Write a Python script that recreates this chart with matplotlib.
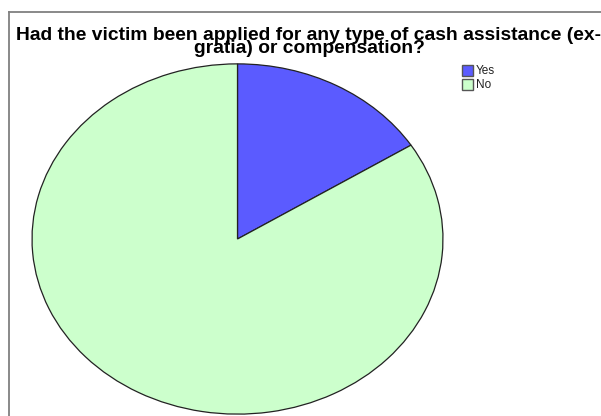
import matplotlib
matplotlib.use("Agg")
import matplotlib.pyplot as plt
from matplotlib.patches import Rectangle
from matplotlib.lines import Line2D

# Survey responses (percent of victims)
categories = ["Yes", "No"]
shares = [16, 84]
colors = ["#5b5bff", "#ccffcc"]
title = ("Had the victim been applied for any type of cash assistance (ex-\n"
         "gratia) or compensation?")

W, H = 601, 416
fig = plt.figure(figsize=(W / 100, H / 100), dpi=100)
fig.patch.set_facecolor("white")

# Overlay axes in pixel coordinates for frame, title and legend
ov = fig.add_axes([0, 0, 1, 1])
ov.set_xlim(0, W)
ov.set_ylim(H, 0)
ov.axis("off")

# Chart frame (top and left edges visible)
ov.add_line(Line2D([8.5, 8.5], [11.5, H + 5], color="#808080", lw=1.3))
ov.add_line(Line2D([8.5, W + 5], [11.5, 11.5], color="#808080", lw=1.3))

# Title, centred over the chart area, tight line spacing
font = "Liberation Sans"
ov.text(309, 53, title, fontsize=13.9, fontweight="bold", family=font,
        ha="center", va="baseline", multialignment="center",
        linespacing=0.67, color="black")

# Legend
for i, (lab, col) in enumerate(zip(categories, colors)):
    y0 = 64.5 + i * 14
    ov.add_patch(Rectangle((462, y0), 11, 11, facecolor=col,
                           edgecolor="#555555", lw=1.0))
    ov.text(476, y0 + 10, lab, fontsize=8.5, family=font,
            ha="left", va="baseline", color="#222222")

# Pie drawn as an ellipse (stretched axes)
cx, cy, rx, ry = 237.5, 239.0, 206.5, 176.0
pax = fig.add_axes([(cx - rx) / W, (H - (cy + ry)) / H, 2 * rx / W, 2 * ry / H])
pax.pie(shares, colors=colors, startangle=90, counterclock=False,
        wedgeprops=dict(edgecolor="#222222", linewidth=0.9))
pax.set_aspect("auto")
pax.set_xlim(-1.005, 1.005)
pax.set_ylim(-1.005, 1.005)
pax.axis("off")

fig.savefig("out.png", dpi=100, facecolor="white")
